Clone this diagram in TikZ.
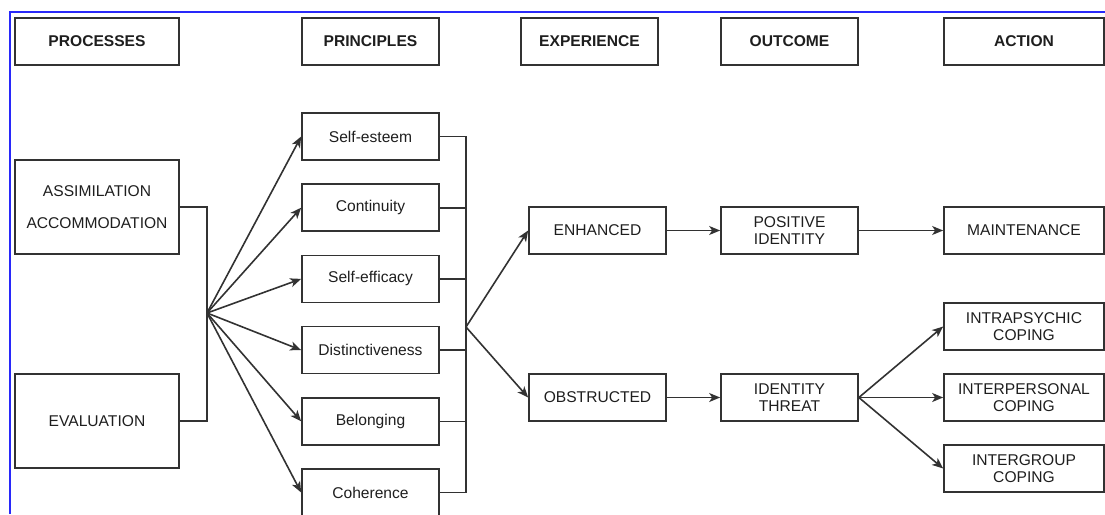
\documentclass[tikz,border=0pt]{standalone}
\usepackage{fontspec}
\setmainfont{Liberation Sans}
\usetikzlibrary{arrows.meta}
\definecolor{ink}{RGB}{50,50,50}
\definecolor{txt}{RGB}{30,30,30}
\definecolor{frame}{RGB}{40,40,250}
\begin{document}
\begin{tikzpicture}[x=1pt,y=-1pt,
  box/.style={draw=ink,line width=1.7pt,inner sep=0pt,minimum height=47pt,
    minimum width=137pt,align=center,text=txt,
    font=\fontsize{15.6}{16.5}\selectfont},
  head/.style={box,font=\bfseries\fontsize{15.6}{16.5}\selectfont},
  wide/.style={minimum width=160pt},
  tall/.style={minimum width=164pt,minimum height=94pt},
  link/.style={draw=ink,line width=1.6pt},
  arr/.style={link,-{Stealth[length=11pt,width=9pt,inset=3pt]}}]
\useasboundingbox (0,0) rectangle (1105,514);
% blue outer frame (left and top edges)
\draw[frame,line width=1.8pt] (10,514) -- (10,12) -- (1105,12);

% column headers
\node[head,tall,minimum height=47pt] (hproc) at (97,41.5) {PROCESSES};
\node[head] (hprin) at (370.5,41.5) {PRINCIPLES};
\node[head] (hexp) at (589.5,41.5) {EXPERIENCE};
\node[head] (hout) at (789.5,41.5) {OUTCOME};
\node[head,wide] (hact) at (1024,41.5) {ACTION};

% processes
\node[box,tall] (assim) at (97,207) {ASSIMILATION\\[16pt]ACCOMMODATION};
\node[box,tall] (evalu) at (97,421) {EVALUATION};

% principles
\node[box] (p1) at (370.5,136.5) {Self-esteem};
\node[box] (p2) at (370.5,207.7) {Continuity};
\node[box] (p3) at (370.5,278.9) {Self-efficacy};
\node[box] (p4) at (370.5,350.1) {Distinctiveness};
\node[box] (p5) at (370.5,421.3) {Belonging};
\node[box] (p6) at (370.5,492.5) {Coherence};

% experience
\node[box] (enh) at (597.5,230.5) {ENHANCED};
\node[box] (obs) at (597.5,397.5) {OBSTRUCTED};

% outcome
\node[box] (pos) at (789.5,230.5) {POSITIVE\\IDENTITY};
\node[box] (thr) at (789.5,397.5) {IDENTITY\\THREAT};

% action
\node[box,wide] (maint) at (1024,230.5) {MAINTENANCE};
\node[box,wide] (intra) at (1024,326.5) {INTRAPSYCHIC\\COPING};
\node[box,wide] (inter) at (1024,397.5) {INTERPERSONAL\\COPING};
\node[box,wide] (group) at (1024,468.5) {INTERGROUP\\COPING};

% junction points
\coordinate (jl) at (207,313);
\coordinate (jr) at (466,327);

% processes merge and fan out to the principles
\draw[link] (assim.east) -| (jl);
\draw[link] (evalu.east) -| (jl);
\foreach \p in {p1,p2,p3,p4,p5,p6}
  \draw[arr] (jl) -- (\p.west);

% principles merge and fan out to the experiences
\foreach \p in {p1,p2,p3,p4,p5,p6}
  \draw[link] (\p.east) -| (jr);
\draw[arr] (jr) -- (enh.west);
\draw[arr] (jr) -- (obs.west);

% experience -> outcome -> action
\draw[arr] (enh) -- (pos);
\draw[arr] (obs) -- (thr);
\draw[arr] (pos) -- (maint);
\draw[arr] (thr.east) -- (intra.west);
\draw[arr] (thr.east) -- (inter.west);
\draw[arr] (thr.east) -- (group.west);
\end{tikzpicture}
\end{document}
